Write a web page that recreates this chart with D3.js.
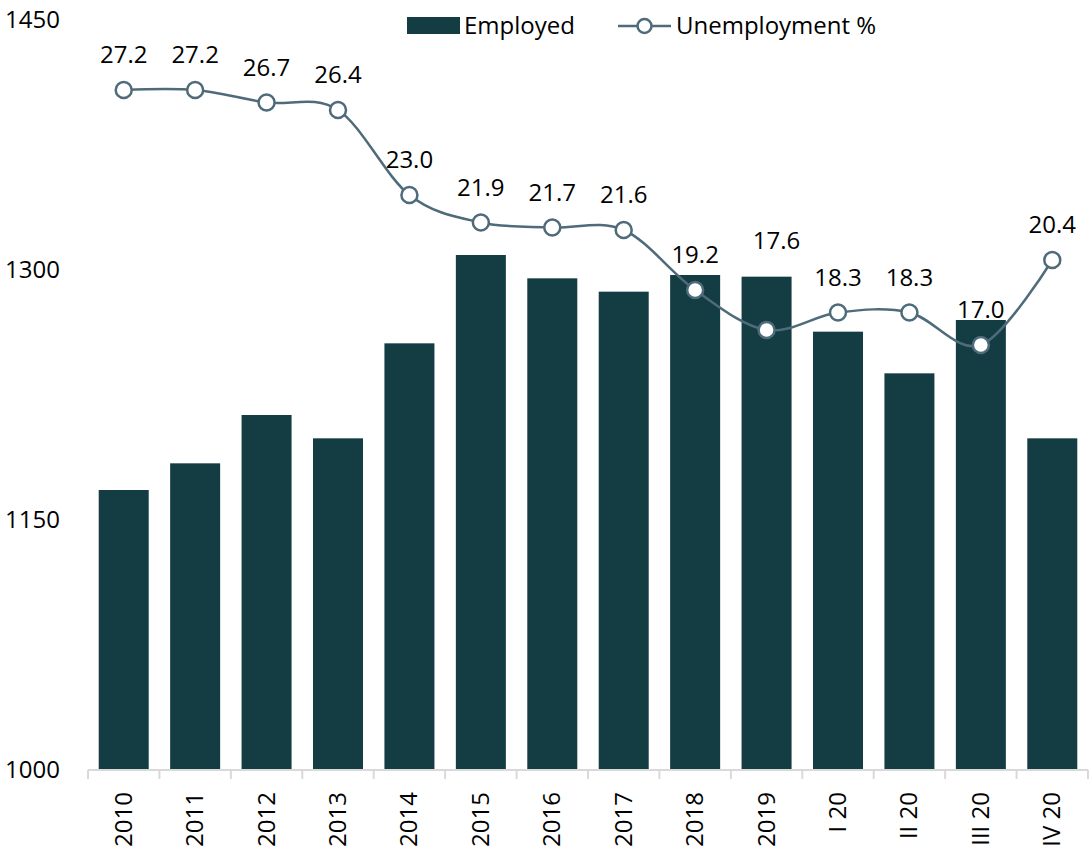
<!DOCTYPE html>
<html>
<head>
<meta charset="utf-8">
<script src="https://cdn.jsdelivr.net/npm/d3@7"></script>
<style>
  html, body { margin: 0; padding: 0; background: #fff; }
  svg { display: block; font-family: "Open Sans", "Noto Sans", sans-serif; }
</style>
</head>
<body>
<svg id="chart" width="1089" height="850"></svg>
<script>
// Periods shown on the category axis
const periods = ["2010", "2011", "2012", "2013", "2014", "2015", "2016", "2017", "2018", "2019", "I 20", "II 20", "III 20", "IV 20"];
// Employed persons (thousands), left axis
const employed = [1168, 1184, 1213, 1199, 1256, 1309, 1295, 1287, 1297, 1296, 1263, 1238, 1270, 1199];
// Unemployment rate (%), secondary axis
const unemployment = [27.2, 27.2, 26.7, 26.4, 23.0, 21.9, 21.7, 21.6, 19.2, 17.6, 18.3, 18.3, 17.0, 20.4];
// Left axis tick values
const leftTicks = [1000, 1150, 1300, 1450];

const barColor = "#133c43";
const lineColor = "#4f6b7a";

const svg = d3.select("#chart");
const margin = { left: 88, right: 1, top: 20, bottom: 80 };
const width = 1089, height = 850;
const plotBottom = height - margin.bottom; // 770

const x = d3.scaleBand()
  .domain(periods)
  .range([margin.left, width - margin.right])
  .paddingInner(0.3)
  .paddingOuter(0.15);

const y = d3.scaleLinear().domain([1000, 1450]).range([plotBottom, margin.top]);
const y2 = d3.scaleLinear().domain([0, 30]).range([plotBottom, margin.top]);

// Bars
svg.append("g")
  .selectAll("rect")
  .data(periods)
  .join("rect")
  .attr("x", d => x(d))
  .attr("width", x.bandwidth())
  .attr("y", (d, i) => y(employed[i]))
  .attr("height", (d, i) => plotBottom - y(employed[i]))
  .attr("fill", barColor);

// Left axis labels (no line, no ticks)
const yAxis = svg.append("g")
  .attr("transform", `translate(${margin.left - 28},0)`)
  .call(d3.axisLeft(y).tickValues(leftTicks).tickSize(0).tickPadding(0).tickFormat(d3.format("d")));
yAxis.select(".domain").remove();
yAxis.selectAll("text")
  .attr("font-size", 24)
  .attr("fill", "#000")
  .attr("font-family", "Open Sans, Noto Sans, sans-serif");

// Category axis with ticks at category boundaries
const step = x.step();
const boundaries = d3.range(periods.length + 1).map(i => margin.left + i * step);
const xg = svg.append("g");
xg.append("line")
  .attr("x1", margin.left).attr("x2", width - margin.right)
  .attr("y1", plotBottom).attr("y2", plotBottom)
  .attr("stroke", "#d9d9d9").attr("stroke-width", 2);
xg.selectAll("line.tick")
  .data(boundaries)
  .join("line")
  .attr("class", "tick")
  .attr("x1", d => d).attr("x2", d => d)
  .attr("y1", plotBottom).attr("y2", plotBottom + 9)
  .attr("stroke", "#d9d9d9").attr("stroke-width", 2);
xg.selectAll("text")
  .data(periods)
  .join("text")
  .attr("transform", d => `translate(${x(d) + x.bandwidth() / 2 + 8},${plotBottom + 22}) rotate(-90)`)
  .attr("text-anchor", "end")
  .attr("font-size", 24)
  .attr("fill", "#000")
  .text(d => d);

// Unemployment line (smoothed)
const pts = periods.map((p, i) => [x(p) + x.bandwidth() / 2, y2(unemployment[i])]);
svg.append("path")
  .datum(pts)
  .attr("d", d3.line().curve(d3.curveCatmullRom.alpha(0)))
  .attr("fill", "none")
  .attr("stroke", lineColor)
  .attr("stroke-width", 2.5);

svg.append("g")
  .selectAll("circle")
  .data(pts)
  .join("circle")
  .attr("cx", d => d[0]).attr("cy", d => d[1])
  .attr("r", 8)
  .attr("fill", "#fff")
  .attr("stroke", lineColor)
  .attr("stroke-width", 2.5);

// Value labels above markers; a label that would sit on its own bar is lifted above the bar
const labelGap = 27;
svg.append("g")
  .selectAll("text")
  .data(pts)
  .join("text")
  .attr("x", d => d[0])
  .attr("y", (d, i) => {
    const base = d[1] - labelGap;
    const barTop = y(employed[i]);
    return base > barTop ? barTop - 28 : base;
  })
  .attr("dx", (d, i) => (d[1] - labelGap > y(employed[i]) ? 10 : 0))
  .attr("text-anchor", "middle")
  .attr("font-size", 24)
  .attr("fill", "#000")
  .text((d, i) => unemployment[i].toFixed(1));

// Legend
const lg = svg.append("g");
lg.append("rect")
  .attr("x", 407).attr("y", 17).attr("width", 53).attr("height", 17)
  .attr("fill", barColor);
lg.append("text")
  .attr("x", 464).attr("y", 34)
  .attr("font-size", 24).attr("fill", "#000")
  .text("Employed");
lg.append("line")
  .attr("x1", 618).attr("x2", 671).attr("y1", 26).attr("y2", 26)
  .attr("stroke", lineColor).attr("stroke-width", 2.5);
lg.append("circle")
  .attr("cx", 644.5).attr("cy", 26).attr("r", 7)
  .attr("fill", "#fff").attr("stroke", lineColor).attr("stroke-width", 2.5);
lg.append("text")
  .attr("x", 676).attr("y", 34)
  .attr("font-size", 24).attr("fill", "#000")
  .text("Unemployment %");
</script>
</body>
</html>
